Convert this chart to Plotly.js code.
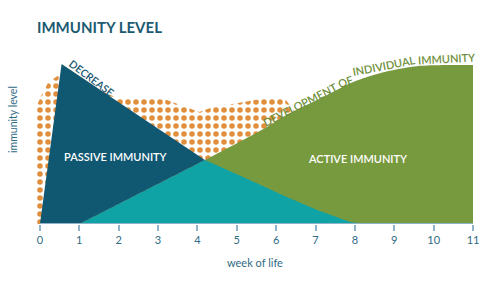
<!DOCTYPE html>
<html>
<head>
<meta charset="utf-8">
<script src="https://cdn.plot.ly/plotly-3.0.1.min.js"></script>
<style>html,body{margin:0;padding:0;background:#fff;}#chart{width:500px;height:282px;}</style>
</head>
<body>
<div id="chart"></div>
<script>
// Week ticks
const weekTicks = [0,1,2,3,4,5,6,7,8,9,10,11];

// Passive (maternal) immunity: rises to a peak, then decreases
const passiveX = [0, 0.55, 4.19, 5.33, 6.17, 7.04, 7.88, 8.25];
const passiveY = [0, 100, 40, 27.5, 18, 8.75, 1.2, 0];

// Active (individual) immunity development
const activeX = [1, 4.19, 5.77, 6.17, 6.61, 7.04, 7.44, 7.88, 8.31, 8.89, 9.58, 10.3, 11];
const activeY = [0, 40, 60.6, 66.9, 72.5, 77.5, 82.5, 88, 91.9, 95.8, 98.6, 99.3, 99.4];

// Crossing point of both curves (week)
const crossX = 4.19;

// Immunity gap (dotted area) outline
const gapX = [-0.08, -0.08, 0.05, 0.2, 0.35, 0.55, 1.85, 2.5, 3.05, 3.5, 4.05, 4.5, 4.9, 5.35, 5.8, 6.2, 6.45, 6.45];
const gapY = [0, 74, 81, 88, 91, 94, 80, 78, 79, 75, 70, 74, 75, 77, 79, 79, 71, 0];

// Visible passive-only region: passive curve up to the crossing, back along the active rise
const passOnlyX = passiveX.filter(x => x <= crossX).concat(activeX.filter(x => x <= crossX).reverse());
const passOnlyY = passiveY.filter((y, i) => passiveX[i] <= crossX).concat(activeY.filter((y, i) => activeX[i] <= crossX).reverse());

// Overlap (teal) region built from both curves
const overlapX = activeX.filter(x => x <= crossX).concat(passiveX.filter(x => x > crossX));
const overlapY = activeY.filter((y, i) => activeX[i] <= crossX).concat(passiveY.filter((y, i) => passiveX[i] > crossX));

const FONT = 'Lato, "Open Sans", sans-serif';
const TXT = '#2f6a84';

const traces = [
  {
    x: gapX, y: gapY, type: 'scatter', mode: 'lines', fill: 'toself',
    fillcolor: 'rgba(0,0,0,0)', line: {width: 0},
    fillpattern: {shape: '.', fgcolor: '#e08f3c', bgcolor: 'rgba(0,0,0,0)', size: 8, solidity: 0.38, fillmode: 'replace'},
    hoverinfo: 'skip'
  },
  {
    x: activeX, y: activeY, type: 'scatter', mode: 'lines', fill: 'tozeroy',
    fillcolor: '#789a3f', line: {width: 0, color: '#789a3f', shape: 'spline', smoothing: 0.8}, hoverinfo: 'skip'
  },
  {
    x: overlapX, y: overlapY, type: 'scatter', mode: 'lines', fill: 'tozeroy',
    fillcolor: '#0fa3a5', line: {width: 0, color: '#0fa3a5'}, hoverinfo: 'skip'
  },
  {
    x: passOnlyX, y: passOnlyY, type: 'scatter', mode: 'lines', fill: 'toself',
    fillcolor: '#105772', line: {width: 0, color: '#105772'}, hoverinfo: 'skip'
  }
];

const ann = (text, x, y, size, color, angle) => ({
  text: text, x: x, y: y, xref: 'x', yref: 'y', showarrow: false,
  textangle: angle || 0, font: {family: FONT, size: size, color: color, weight: 600},
  xanchor: 'center', yanchor: 'middle'
});

const layout = {
  width: 500, height: 282,
  margin: {l: 36, r: 27, t: 50, b: 58},
  paper_bgcolor: '#fff', plot_bgcolor: '#fff',
  showlegend: false,
  title: {
    text: 'IMMUNITY LEVEL', xref: 'container', yref: 'container',
    x: 0.074, xanchor: 'left', y: 0.9, yanchor: 'middle',
    font: {family: FONT, size: 15, color: '#1d5a72', weight: 700}
  },
  xaxis: {
    range: [-0.1, 11], tickvals: weekTicks, ticktext: weekTicks.map(String),
    ticks: 'outside', ticklen: 6, tickwidth: 2, tickcolor: '#8fb4ca',
    showline: false, showgrid: false, zeroline: false,
    tickfont: {family: FONT, size: 11, color: TXT}, fixedrange: true
  },
  yaxis: {
    range: [0, 108.75], showticklabels: false, ticks: '', showgrid: false,
    zeroline: false, showline: false, fixedrange: true
  },
  shapes: [
    {type: 'line', xref: 'x', yref: 'y', x0: 0, x1: 11, y0: 0, y1: 0, line: {color: '#8fb4ca', width: 2}, layer: 'above'}
  ],
  annotations: [
    ann('PASSIVE IMMUNITY', 1.94, 41.9, 11, '#ffffff', 0),
    ann('ACTIVE IMMUNITY', 8.08, 41.25, 11, '#ffffff', 0),
    ann('DECREASE', 1.3, 91, 10.5, '#17556e', 37),
    ann('DEVELOPMENT', 6.6, 75, 11, '#6f8f3b', -27),
    ann('OF', 7.76, 88.8, 11, '#6f8f3b', -19),
    ann('INDIVIDUAL', 8.75, 98.9, 11, '#6f8f3b', -11),
    ann('IMMUNITY', 10.35, 103.5, 11, '#6f8f3b', -3),
    {text: 'immunity level', xref: 'paper', yref: 'paper', x: -0.0526, y: 0.598, showarrow: false,
     textangle: -90, font: {family: FONT, size: 10.5, color: TXT}, xanchor: 'center', yanchor: 'middle'},
    {text: 'week of life', xref: 'paper', yref: 'paper', x: 0.5, y: -0.224, showarrow: false,
     font: {family: FONT, size: 11, color: TXT}, xanchor: 'center', yanchor: 'middle'}
  ]
};

Plotly.newPlot('chart', traces, layout, {displayModeBar: false, staticPlot: true});
</script>
</body>
</html>
